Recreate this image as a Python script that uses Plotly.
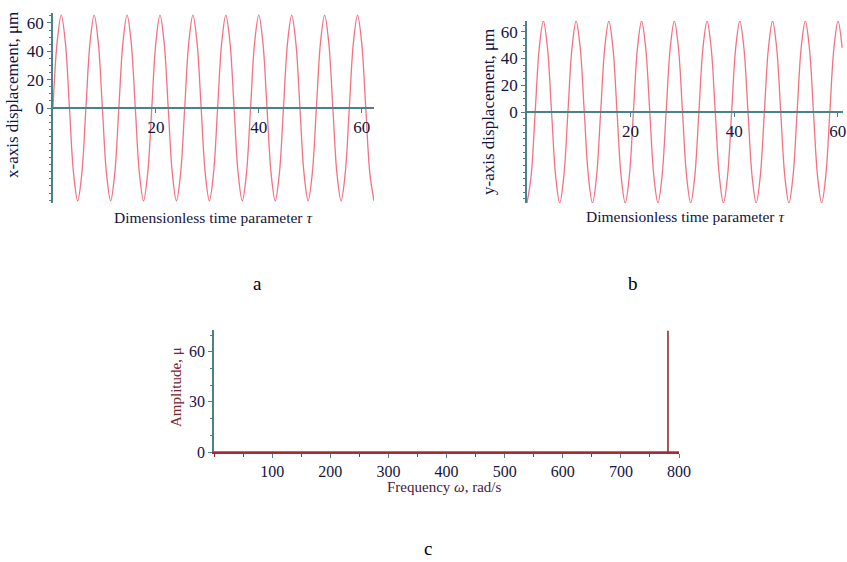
import plotly.graph_objects as go

# ---- data ----
# panel a: x-axis displacement vs dimensionless time (samples every 1/8 period, period ~6.4)
tau_a = [0, 0.8, 1.6, 2.4, 3.2, 4.0, 4.8, 5.6, 6.4, 7.2, 8.0, 8.8, 9.6, 10.4, 11.2, 12.0,
         12.8, 13.6, 14.4, 15.2, 16.0, 16.8, 17.6, 18.4, 19.2, 20.0, 20.8, 21.6, 22.4, 23.2,
         24.0, 24.8, 25.6, 26.4, 27.2, 28.0, 28.8, 29.6, 30.4, 31.2, 32.0, 32.8, 33.6, 34.4,
         35.2, 36.0, 36.8, 37.6, 38.4, 39.2, 40.0, 40.8, 41.6, 42.4, 43.2, 44.0, 44.8, 45.6,
         46.4, 47.2, 48.0, 48.8, 49.6, 50.4, 51.2, 52.0, 52.8, 53.6, 54.4, 55.2, 56.0, 56.8,
         57.6, 58.4, 59.2, 60.0, 60.8, 61.6, 62.4]
x_disp = [0, 46.3, 65.5, 46.3, 0, -46.3, -65.5, -46.3,
          0, 46.3, 65.5, 46.3, 0, -46.3, -65.5, -46.3,
          0, 46.3, 65.5, 46.3, 0, -46.3, -65.5, -46.3,
          0, 46.3, 65.5, 46.3, 0, -46.3, -65.5, -46.3,
          0, 46.3, 65.5, 46.3, 0, -46.3, -65.5, -46.3,
          0, 46.3, 65.5, 46.3, 0, -46.3, -65.5, -46.3,
          0, 46.3, 65.5, 46.3, 0, -46.3, -65.5, -46.3,
          0, 46.3, 65.5, 46.3, 0, -46.3, -65.5, -46.3,
          0, 46.3, 65.5, 46.3, 0, -46.3, -65.5, -46.3,
          0, 46.3, 65.5, 46.3, 0, -46.3, -65.5]

# panel b: y-axis displacement vs dimensionless time (samples every 1/8 period, period ~6.32)
tau_b = [0, 0.79, 1.58, 2.37, 3.16, 3.95, 4.74, 5.53, 6.32, 7.11, 7.9, 8.69, 9.48, 10.27,
         11.06, 11.85, 12.64, 13.43, 14.22, 15.01, 15.8, 16.59, 17.38, 18.17, 18.96, 19.75,
         20.54, 21.33, 22.12, 22.91, 23.7, 24.49, 25.28, 26.07, 26.86, 27.65, 28.44, 29.23,
         30.02, 30.81, 31.6, 32.39, 33.18, 33.97, 34.76, 35.55, 36.34, 37.13, 37.92, 38.71,
         39.5, 40.29, 41.08, 41.87, 42.66, 43.45, 44.24, 45.03, 45.82, 46.61, 47.4, 48.19,
         48.98, 49.77, 50.56, 51.35, 52.14, 52.93, 53.72, 54.51, 55.3, 56.09, 56.88, 57.67,
         58.46, 59.25, 60.04, 60.83]
y_disp = [-68, -48, 0, 48, 68, 48, 0, -48,
          -68, -48, 0, 48, 68, 48, 0, -48,
          -68, -48, 0, 48, 68, 48, 0, -48,
          -68, -48, 0, 48, 68, 48, 0, -48,
          -68, -48, 0, 48, 68, 48, 0, -48,
          -68, -48, 0, 48, 68, 48, 0, -48,
          -68, -48, 0, 48, 68, 48, 0, -48,
          -68, -48, 0, 48, 68, 48, 0, -48,
          -68, -48, 0, 48, 68, 48, 0, -48,
          -68, -48, 0, 48, 68, 48]

# panel c: amplitude spectrum
omega = [0, 781, 781, 781, 800]
amplitude = [0, 0, 72.5, 0, 0]

ab_y_ticks = [0, 20, 40, 60]
ab_x_ticks = [20, 40, 60]
c_y_ticks = [0, 30, 60]
c_x_ticks = [100, 200, 300, 400, 500, 600, 700, 800]

# ---- figure ----
W, H = 847, 562
FONT = "Liberation Serif"
TXT = "#14143e"
AXC = "#4a8289"
SINE = "#f27384"


def px_x(p):
    return p / W


def px_y(p):
    return 1 - p / H


fig = go.Figure()
fig.add_trace(go.Scatter(x=tau_a, y=x_disp, mode="lines", line=dict(color=SINE, width=1.3, shape="spline"),
                         xaxis="x", yaxis="y", showlegend=False))
fig.add_trace(go.Scatter(x=tau_b, y=y_disp, mode="lines", line=dict(color=SINE, width=1.3, shape="spline"),
                         xaxis="x2", yaxis="y2", showlegend=False))
fig.add_trace(go.Scatter(x=omega, y=amplitude, mode="lines", line=dict(color="#9a3840", width=1.7),
                         xaxis="x3", yaxis="y3", showlegend=False))

tickfont = dict(family=FONT, size=17, color=TXT)
tickfont_c = dict(family=FONT, size=16, color=TXT)

ya_dom = [px_y(203), px_y(13)]
yb_dom = [px_y(203), px_y(21)]
yc_dom = [px_y(452), px_y(330)]

common_x = dict(showgrid=False, zeroline=False, showline=True, linecolor=AXC, linewidth=1.5,
                ticks="outside", ticklen=4, tickcolor=AXC, tickfont=tickfont, automargin=False)
common_y = dict(showgrid=False, zeroline=False, showline=True, linecolor=AXC, linewidth=1.5,
                ticks="outside", ticklen=4, tickcolor=AXC, tickfont=tickfont, automargin=False,
                minor=dict(ticks="outside", ticklen=2, dtick=5, tickcolor=AXC))

fig.update_layout(
    width=W, height=H, margin=dict(l=0, r=0, t=0, b=0),
    paper_bgcolor="white", plot_bgcolor="white",
    xaxis=dict(domain=[px_x(53), px_x(374)], range=[0, 62.4], anchor="free",
               position=(ya_dom[0] + ya_dom[1]) / 2, tickvals=ab_x_ticks, **common_x),
    yaxis=dict(domain=ya_dom, range=[-67, 67], anchor="x", tickvals=ab_y_ticks, **common_y),
    xaxis2=dict(domain=[px_x(527), px_x(843)], range=[0, 61], anchor="free",
                position=(yb_dom[0] + yb_dom[1]) / 2, tickvals=ab_x_ticks, **common_x),
    yaxis2=dict(domain=yb_dom, range=[-68, 68], anchor="x2", tickvals=ab_y_ticks, **common_y),
    xaxis3=dict(domain=[px_x(214), px_x(679)], range=[0, 800], anchor="y3", tickvals=c_x_ticks,
                **{**common_x, "linecolor": "#a82a36", "tickfont": tickfont_c,
                   "minor": dict(ticks="outside", ticklen=3, dtick=50, tickcolor="#a82a36")}),
    yaxis3=dict(domain=yc_dom, range=[0, 73], anchor="x3", tickvals=c_y_ticks,
                **{**common_y, "tickfont": tickfont_c,
                   "minor": dict(ticks="outside", ticklen=2, dtick=10, tickcolor=AXC)}),
)

ann = [
    dict(text="x-axis displacement, μm", x=px_x(12), y=px_y(95), textangle=-90,
         font=dict(family=FONT, size=17, color=TXT)),
    dict(text="Dimensionless time parameter <i>τ</i>", x=px_x(213), y=px_y(218),
         font=dict(family=FONT, size=15.5, color=TXT)),
    dict(text="y-axis displacement, μm", x=px_x(488), y=px_y(112), textangle=-90,
         font=dict(family=FONT, size=17, color=TXT)),
    dict(text="Dimensionless time parameter <i>τ</i>", x=px_x(685), y=px_y(217),
         font=dict(family=FONT, size=15.5, color=TXT)),
    dict(text="Amplitude, μ", x=px_x(176), y=px_y(387), textangle=-90,
         font=dict(family=FONT, size=15, color="#7a2430")),
    dict(text="Frequency <i>ω</i>, rad/s", x=px_x(444), y=px_y(487),
         font=dict(family=FONT, size=15, color="#4a2040")),
    dict(text="a", x=px_x(257), y=px_y(283), font=dict(family=FONT, size=19, color="black")),
    dict(text="b", x=px_x(633), y=px_y(283), font=dict(family=FONT, size=19, color="black")),
    dict(text="c", x=px_x(428), y=px_y(548), font=dict(family=FONT, size=19, color="black")),
]
for a in ann:
    a.update(xref="paper", yref="paper", showarrow=False, xanchor="center", yanchor="middle")
fig.update_layout(annotations=ann)

fig.write_html("out.html", config={"displayModeBar": False},
               post_script="document.body.style.margin='0';document.body.style.overflow='hidden';")
